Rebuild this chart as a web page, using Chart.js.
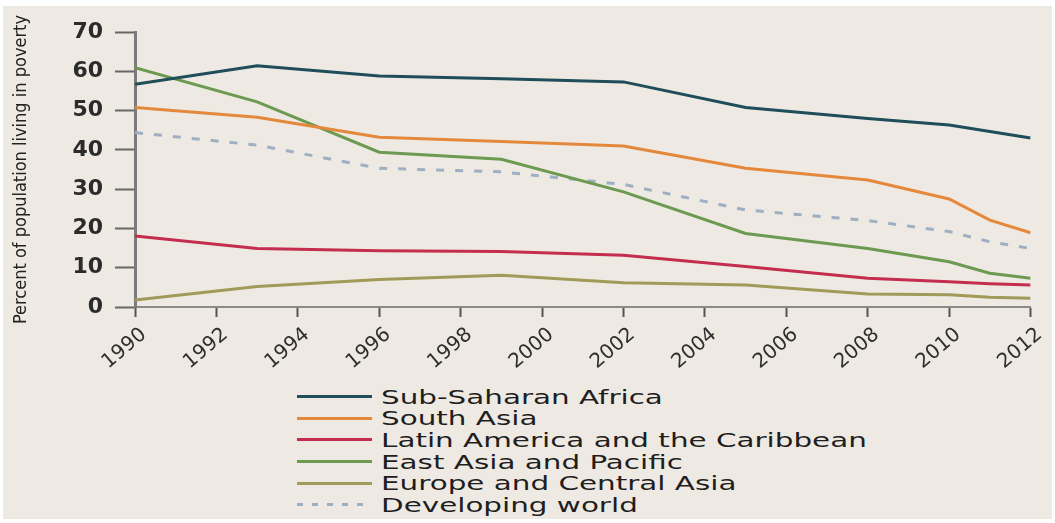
<!DOCTYPE html>
<html>
<head>
    <title>Percent of population living in poverty</title>
    <meta charset="utf-8" />
    <script src="https://cdn.jsdelivr.net/npm/chart.js@4.4.1/dist/chart.umd.min.js"></script>
    <style>
        body {
            margin: 0;
            background: #fff;
        }
        #frame {
            position: absolute;
            left: 3px;
            top: 6px;
            width: 1049px;
            height: 513px;
            background: #eeeae3;
        }
        #chartBox {
            position: absolute;
            left: 0;
            top: 0;
        }
        #legend {
            position: absolute;
            left: 294px;
            top: 380px;
            font-family: 'DejaVu Sans', sans-serif;
            font-size: 20px;
            color: #1e1e1e;
        }
        .item {
            height: 21.6px;
            display: flex;
            align-items: center;
        }
        .swatch {
            width: 75px;
            height: 3px;
            margin-right: 9px;
        }
        .item span {
            display: inline-block;
            transform: scaleX(1.47);
            transform-origin: left center;
            white-space: nowrap;
        }
    </style>
</head>
<body>
    <div id="frame">
        <div id="chartBox"><canvas id="chart" width="1049" height="370"></canvas></div>
        <div id="legend"></div>
    </div>

    <script>
        // survey years
        const years = [1990, 1993, 1996, 1999, 2002, 2005, 2008, 2010, 2011, 2012];

        // percent of population in poverty
        const subSaharanAfrica  = [56.7, 61.4, 58.8, 58.1, 57.3, 50.8, 48.0, 46.3, 44.7, 43.0];
        const southAsia         = [50.8, 48.3, 43.2, 42.1, 41.0, 35.3, 32.3, 27.5, 22.1, 18.9];
        const latinAmerica      = [18.1, 14.9, 14.3, 14.1, 13.2, 10.3, 7.3, 6.4, 5.9, 5.6];
        const eastAsiaPacific   = [60.9, 52.2, 39.4, 37.6, 29.3, 18.7, 14.9, 11.5, 8.6, 7.3];
        const europeCentralAsia = [1.8, 5.2, 7.0, 8.1, 6.2, 5.6, 3.3, 3.1, 2.5, 2.2];
        const developingWorld   = [44.4, 41.2, 35.3, 34.4, 31.2, 24.7, 22.0, 19.2, 16.6, 14.9];

        const seriesNames = [
            'Sub-Saharan Africa',
            'South Asia',
            'Latin America and the Caribbean',
            'East Asia and Pacific',
            'Europe and Central Asia',
            'Developing world'
        ];
        const seriesValues = [subSaharanAfrica, southAsia, latinAmerica,
                              eastAsiaPacific, europeCentralAsia, developingWorld];
        const seriesColors = ['#1f4d59', '#e4883c', '#c42d4e', '#6b9a50', '#a29a58', '#9fafc3'];

        const yAxisTitle = 'Percent of population living in poverty';

        const datasets = seriesNames.map((name, i) => ({
            label: name,
            data: years.map((yr, j) => ({ x: yr, y: seriesValues[i][j] })),
            borderColor: seriesColors[i],
            borderWidth: 3,
            borderDash: i === 5 ? [8, 11] : [],
            pointRadius: 0,
            tension: 0,
            fill: false
        }));

        const chart = new Chart(document.getElementById('chart'), {
            type: 'line',
            data: { datasets: datasets },
            options: {
                responsive: false,
                animation: false,
                layout: {
                    padding: { top: 26, right: 20, left: 0, bottom: 0 }
                },
                plugins: {
                    legend: { display: false },
                    tooltip: { enabled: false }
                },
                scales: {
                    x: {
                        type: 'linear',
                        min: 1990,
                        max: 2012,
                        afterFit: (scale) => { scale.height = 69; },
                        border: { color: '#8a8a8a', width: 2 },
                        grid: {
                            drawOnChartArea: false,
                            tickLength: 10,
                            tickWidth: 2,
                            tickColor: '#555'
                        },
                        ticks: {
                            stepSize: 2,
                            autoSkip: false,
                            minRotation: 40,
                            maxRotation: 40,
                            padding: 6,
                            labelOffset: 9,
                            color: '#2e2e2e',
                            font: { family: 'DejaVu Sans', size: 20 },
                            callback: (v) => String(v)
                        }
                    },
                    y: {
                        min: 0,
                        max: 70,
                        afterFit: (scale) => { scale.width = 132; },
                        border: { color: '#7b7b7b', width: 3 },
                        grid: {
                            drawOnChartArea: false,
                            tickLength: 20,
                            tickWidth: 2,
                            tickColor: '#666'
                        },
                        ticks: {
                            stepSize: 10,
                            padding: 12,
                            color: '#2b2b2b',
                            font: { family: 'DejaVu Sans', size: 22, weight: 'bold' }
                        },
                        title: {
                            display: true,
                            text: yAxisTitle,
                            color: '#222',
                            padding: { top: 8, bottom: 0 },
                            font: { family: "'Liberation Sans Narrow', 'DejaVu Sans Condensed', sans-serif", size: 18 }
                        }
                    }
                }
            }
        });

        // legend as a single column under the plot
        const legend = document.getElementById('legend');
        chart.data.datasets.forEach((ds) => {
            const row = document.createElement('div');
            row.className = 'item';
            const sw = document.createElement('div');
            sw.className = 'swatch';
            sw.style.background = ds.borderDash.length
                ? `repeating-linear-gradient(to right, ${ds.borderColor} 0 6px, transparent 6px 15px)`
                : ds.borderColor;
            const txt = document.createElement('span');
            txt.textContent = ds.label;
            row.appendChild(sw);
            row.appendChild(txt);
            legend.appendChild(row);
        });
    </script>
</body>
</html>
